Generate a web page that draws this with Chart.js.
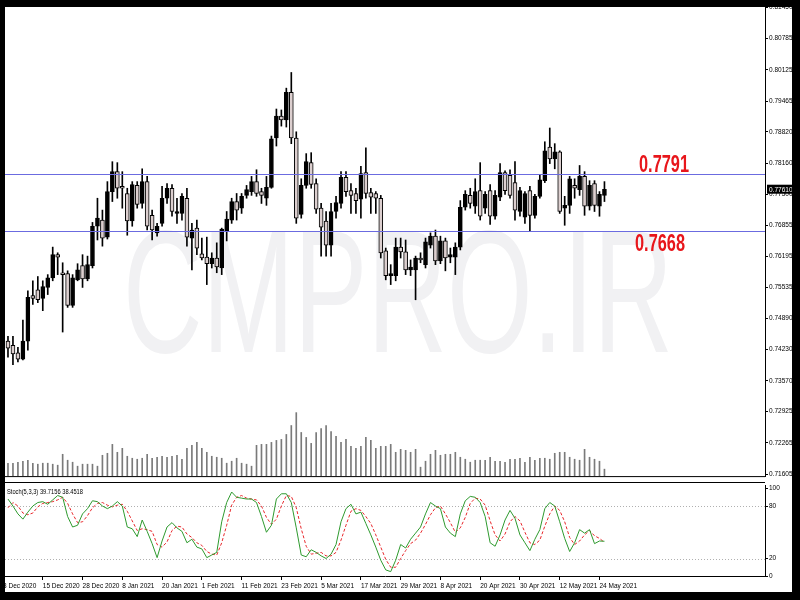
<!DOCTYPE html>
<html>
<head>
<meta charset="utf-8">
<script src="https://cdn.jsdelivr.net/npm/chart.js@4.4.1/dist/chart.umd.min.js"></script>
<style>
html,body{margin:0;padding:0;background:#fff;width:800px;height:600px;overflow:hidden;}
canvas{position:absolute;left:0;}
#main{top:0;}
#stoch{top:481px;}
.frame{position:absolute;background:#000;z-index:5;}
</style>
</head>
<body>
<canvas id="main" width="800" height="481"></canvas>
<canvas id="stoch" width="800" height="119"></canvas>
<div class="frame" style="left:0;top:0;width:800px;height:7px"></div>
<div class="frame" style="left:0;top:0;width:5px;height:600px"></div>
<div class="frame" style="left:792px;top:0;width:8px;height:600px"></div>
<div class="frame" style="left:0;top:592px;width:800px;height:8px"></div>
<script>
// daily bars, 4 Dec 2020 .. 25 May 2021 (index 0 = 4 Dec)
const dateTicks = ["3 Dec 2020","15 Dec 2020","28 Dec 2020","8 Jan 2021","20 Jan 2021","1 Feb 2021","11 Feb 2021","23 Feb 2021","5 Mar 2021","17 Mar 2021","29 Mar 2021","8 Apr 2021","20 Apr 2021","30 Apr 2021","12 May 2021","24 May 2021"];
const tickStart = -1, tickEvery = 8;

const open = [0.7441,0.7432,0.7416,0.7403,0.7441,0.7537,0.7549,0.7531,0.7554,0.7574,
  0.7623,0.7585,0.7583,0.7516,0.7570,0.7600,0.7572,0.7600,0.7683,0.7696,
  0.7660,0.7756,0.7798,0.7767,0.7752,0.7694,0.7769,0.7731,0.7777,0.7706,
  0.7669,0.7689,0.7742,0.7763,0.7710,0.7710,0.7742,0.7658,0.7679,0.7625,
  0.7618,0.7604,0.7616,0.7595,0.7673,0.7696,0.7735,0.7721,0.7748,0.7756,
  0.7777,0.7756,0.7742,0.7765,0.7869,0.7915,0.7907,0.7965,0.7869,0.7708,
  0.7769,0.7817,0.7773,0.7721,0.7694,0.7643,0.7714,0.7731,0.7786,0.7758,
  0.7752,0.7740,0.7796,0.7754,0.7752,0.7742,0.7631,0.7579,0.7579,0.7639,
  0.7629,0.7591,0.7591,0.7616,0.7602,0.7643,0.7662,0.7610,0.7652,0.7618,
  0.7618,0.7639,0.7723,0.7748,0.7725,0.7758,0.7721,0.7758,0.7704,0.7744,
  0.7796,0.7790,0.7775,0.7714,0.7702,0.7758,0.7706,0.7746,0.7779,0.7850,
  0.7825,0.7840,0.7721,0.7727,0.7769,0.7760,0.7788,0.7725,0.7773,0.7725,
  0.7748];
const high = [0.7451,0.7451,0.7428,0.7485,0.7547,0.7568,0.7577,0.7568,0.7581,0.7639,
  0.7627,0.7606,0.7589,0.7581,0.7604,0.7623,0.7620,0.7691,0.7742,0.7717,
  0.7777,0.7819,0.7817,0.7798,0.7763,0.7777,0.7777,0.7804,0.7788,0.7717,
  0.7689,0.7767,0.7773,0.7771,0.7742,0.7752,0.7763,0.7689,0.7696,0.7658,
  0.7660,0.7627,0.7648,0.7679,0.7714,0.7742,0.7752,0.7752,0.7769,0.7788,
  0.7802,0.7763,0.7788,0.7873,0.7930,0.7928,0.7974,0.8007,0.7882,0.7783,
  0.7836,0.7838,0.7783,0.7731,0.7714,0.7731,0.7746,0.7798,0.7798,0.7773,
  0.7763,0.7809,0.7848,0.7763,0.7756,0.7748,0.7637,0.7602,0.7658,0.7658,
  0.7654,0.7612,0.7620,0.7627,0.7658,0.7669,0.7675,0.7662,0.7658,0.7637,
  0.7648,0.7737,0.7758,0.7763,0.7783,0.7817,0.7756,0.7771,0.7758,0.7815,
  0.7800,0.7802,0.7819,0.7765,0.7756,0.7767,0.7750,0.7790,0.7861,0.7890,
  0.7857,0.7842,0.7746,0.7788,0.7783,0.7811,0.7798,0.7779,0.7779,0.7756,
  0.7777];
const low = [0.7407,0.7391,0.7397,0.7401,0.7422,0.7518,0.7522,0.7505,0.7539,0.7568,
  0.7581,0.7460,0.7512,0.7512,0.7568,0.7554,0.7568,0.7595,0.7654,0.7641,
  0.7656,0.7735,0.7742,0.7721,0.7664,0.7683,0.7721,0.7721,0.7675,0.7654,
  0.7662,0.7683,0.7731,0.7704,0.7689,0.7696,0.7641,0.7591,0.7623,0.7612,
  0.7560,0.7595,0.7585,0.7581,0.7652,0.7689,0.7696,0.7710,0.7742,0.7748,
  0.7746,0.7731,0.7727,0.7763,0.7852,0.7894,0.7892,0.7857,0.7689,0.7700,
  0.7763,0.7763,0.7710,0.7620,0.7620,0.7620,0.7700,0.7721,0.7746,0.7710,
  0.7710,0.7700,0.7742,0.7710,0.7710,0.7616,0.7570,0.7560,0.7568,0.7616,
  0.7581,0.7579,0.7528,0.7606,0.7595,0.7637,0.7602,0.7604,0.7589,0.7606,
  0.7581,0.7633,0.7717,0.7721,0.7710,0.7696,0.7710,0.7687,0.7698,0.7737,
  0.7750,0.7742,0.7696,0.7704,0.7689,0.7673,0.7700,0.7742,0.7775,0.7815,
  0.7804,0.7710,0.7685,0.7710,0.7742,0.7748,0.7706,0.7717,0.7714,0.7704,
  0.7735];
const close = [0.7426,0.7414,0.7403,0.7441,0.7533,0.7531,0.7528,0.7556,0.7574,0.7623,
  0.7618,0.7581,0.7516,0.7574,0.7591,0.7572,0.7602,0.7683,0.7700,0.7658,
  0.7756,0.7798,0.7763,0.7763,0.7694,0.7771,0.7729,0.7777,0.7683,0.7675,
  0.7683,0.7742,0.7763,0.7714,0.7714,0.7746,0.7660,0.7675,0.7637,0.7616,
  0.7604,0.7616,0.7597,0.7677,0.7698,0.7735,0.7717,0.7746,0.7760,0.7777,
  0.7752,0.7748,0.7765,0.7867,0.7915,0.7907,0.7965,0.7869,0.7700,0.7769,
  0.7819,0.7771,0.7719,0.7681,0.7643,0.7714,0.7733,0.7786,0.7756,0.7748,
  0.7737,0.7794,0.7752,0.7744,0.7742,0.7627,0.7579,0.7583,0.7639,0.7629,
  0.7591,0.7597,0.7616,0.7612,0.7650,0.7662,0.7610,0.7652,0.7616,0.7623,
  0.7639,0.7723,0.7750,0.7731,0.7756,0.7704,0.7750,0.7704,0.7748,0.7796,
  0.7758,0.7748,0.7717,0.7758,0.7752,0.7706,0.7746,0.7781,0.7842,0.7825,
  0.7840,0.7714,0.7727,0.7783,0.7763,0.7788,0.7725,0.7769,0.7727,0.7750,
  0.7761];
const volume = [13,13,14,15,16,13,12,13,13,12,
  11,22,16,14,10,12,12,12,10,21,
  23,32,24,28,20,18,17,18,22,18,
  19,20,19,20,21,17,28,31,34,28,
  24,20,19,18,13,15,18,13,12,10,
  31,32,32,34,36,37,42,51,64,44,
  39,33,44,48,51,45,40,34,37,30,
  28,30,39,36,28,30,30,32,24,27,
  26,24,27,9,15,22,26,21,22,22,
  24,19,17,14,16,16,16,19,15,15,
  14,17,17,18,14,19,16,18,18,17,
  23,24,24,19,17,16,27,19,17,15,
  7];
const stochK = [88,80,71,65,73,80,84,85,82,87,
  92,90,68,56,58,71,77,86,85,80,
  77,80,85,80,56,54,45,64,51,37,
  21,40,56,61,55,51,38,42,33,31,
  21,24,27,62,84,96,90,89,88,88,
  84,68,50,58,88,94,94,84,55,24,
  22,30,27,23,20,25,36,62,77,82,
  71,73,60,47,33,18,7,5,18,36,
  32,42,49,56,71,84,80,77,56,49,
  45,71,86,91,90,84,68,38,34,47,
  64,75,66,47,38,29,42,53,77,84,
  80,62,43,28,38,53,49,53,37,40,
  39.7156];
const stochD = [78,84,80,72,70,72,79,83,84,85,
  87,90,83,71,61,62,69,78,83,84,
  81,79,81,82,74,63,52,54,53,51,
  36,33,39,52,57,56,48,44,38,35,
  28,25,24,38,58,81,90,92,89,88,
  87,80,67,59,65,80,92,91,78,54,
  34,25,26,27,23,23,27,41,58,74,
  77,75,68,60,47,33,19,10,10,20,
  29,37,41,49,59,70,78,80,71,61,
  50,55,67,83,89,88,81,63,47,40,
  48,62,68,63,50,38,36,41,57,71,
  80,75,62,44,36,40,47,52,46,43,
  38.4518];

const priceTicks = [0.81450,0.80785,0.80125,0.79465,0.78820,0.78160,0.77500,0.76855,0.76195,0.75535,0.74890,0.74230,0.73570,0.72925,0.72265,0.71605];
const stochTicks = [100,80,20,0];
const stochLevels = [80,20];
const levelLines = [0.7794,0.7673];
const levelTexts = ["0.7791","0.7668"];

const X_MIN = -0.6, X_MAX = 152.3;
const FONT = "'Liberation Sans', Arial, sans-serif";

// watermark, horizontal levels and the current price tag
const mainPlugin = {
  id: "mainExtras",
  beforeDatasetsDraw(chart) {
    const ctx = chart.ctx;
    ctx.save();
    ctx.fillStyle = "#f1f1f3";
    ctx.font = "175px " + FONT;
    ctx.textAlign = "center";
    ctx.textBaseline = "alphabetic";
    ctx.fillText("CMPRO.IR", 398, 352, 550);
    ctx.restore();
  },
  afterDraw(chart) {
    const { ctx, chartArea: a, scales: { y } } = chart;
    ctx.save();
    levelLines.forEach((v, i) => {
      const py = Math.round(y.getPixelForValue(v)) + 0.5;
      ctx.strokeStyle = "#6b6be0"; ctx.lineWidth = 1;
      ctx.beginPath(); ctx.moveTo(a.left, py); ctx.lineTo(a.right, py); ctx.stroke();
      ctx.fillStyle = "#e8161b";
      ctx.font = "bold 24px " + FONT;
      ctx.textAlign = "center";
      ctx.textBaseline = "alphabetic";
      const tx = i === 0 ? 664 : 660;
      const ty = i === 0 ? py - 3 : py + 19;
      ctx.fillText(levelTexts[i], tx, ty, 50);
    });
    // bottom edge of the price window
    ctx.strokeStyle = "#000"; ctx.lineWidth = 1;
    ctx.beginPath(); ctx.moveTo(0, a.bottom + 0.5); ctx.lineTo(a.right, a.bottom + 0.5); ctx.stroke();
    // last price tag
    const last = close[close.length - 1];
    const py = y.getPixelForValue(last);
    ctx.fillStyle = "#000";
    ctx.fillRect(a.right + 2, py - 4.5, 25, 9);
    ctx.fillStyle = "#fff";
    ctx.font = "6.5px " + FONT;
    ctx.textAlign = "left"; ctx.textBaseline = "middle";
    ctx.fillText(last.toFixed(5), a.right + 4, py + 0.5);
    ctx.restore();
  }
};

new Chart(document.getElementById("main"), {
  type: "bar",
  data: {
    datasets: [
      { label: "body", order: 0, yAxisID: "y",
        data: open.map((o, i) => ({ x: i, y: [o, close[i]] })),
        backgroundColor: open.map((o, i) => close[i] >= o ? "#000" : "#dccfcf"),
        borderColor: "#000", borderWidth: 1, borderSkipped: false, barThickness: 4, minBarLength: 1 },
      { label: "wick", order: 1, yAxisID: "y",
        data: low.map((l, i) => ({ x: i, y: [l, high[i]] })),
        backgroundColor: "#000", borderWidth: 0, barThickness: 1 },
      { label: "volume", order: 2, yAxisID: "vol",
        data: volume.map((v, i) => ({ x: i, y: v })),
        backgroundColor: "#7a7a7a", borderWidth: 0, barThickness: 1 }
    ]
  },
  options: {
    responsive: false, animation: false, events: [],
    layout: { padding: { left: 5, top: 7, right: 8, bottom: 1 } },
    datasets: { bar: { grouped: false } },
    plugins: { legend: { display: false }, tooltip: { enabled: false } },
    scales: {
      x: { type: "linear", min: X_MIN, max: X_MAX, offset: false, display: false },
      y: {
        position: "right", min: 0.71564, max: 0.8145,
        afterFit: s => { s.width = 27; },
        afterBuildTicks: s => { s.ticks = priceTicks.map(v => ({ value: v })); },
        ticks: { autoSkip: false, callback: v => v.toFixed(5), color: "#000", font: { family: FONT, size: 6.5 }, padding: 1 },
        grid: { drawOnChartArea: false, drawTicks: true, tickLength: 3, color: "#000" },
        border: { display: true, color: "#000" }
      },
      vol: { axis: "y", type: "linear", display: false, min: 0, max: 473 }
    }
  },
  plugins: [mainPlugin]
});

const stochPlugin = {
  id: "stochExtras",
  beforeDatasetsDraw(chart) {
    const { ctx, chartArea: a, scales: { y } } = chart;
    ctx.save();
    ctx.strokeStyle = "#b0b0b0"; ctx.lineWidth = 1; ctx.setLineDash([1, 2]);
    stochLevels.forEach(v => {
      const py = Math.round(y.getPixelForValue(v)) + 0.5;
      ctx.beginPath(); ctx.moveTo(a.left, py); ctx.lineTo(a.right, py); ctx.stroke();
    });
    ctx.restore();
  },
  afterDraw(chart) {
    const { ctx, chartArea: a } = chart;
    ctx.save();
    ctx.fillStyle = "#000";
    ctx.fillRect(0, 1, a.right, 1);
    ctx.font = "7px " + FONT;
    ctx.textAlign = "left"; ctx.textBaseline = "alphabetic";
    const txt = "Stoch(5,3,3) " + stochK[stochK.length - 1].toFixed(4) + " " + stochD[stochD.length - 1].toFixed(4);
    ctx.fillText(txt, 7, 13, 76);
    ctx.restore();
  }
};

new Chart(document.getElementById("stoch"), {
  type: "line",
  data: {
    datasets: [
      { label: "K", data: stochK.map((v, i) => ({ x: i, y: v })), borderColor: "#2e9a2e", borderWidth: 1, pointRadius: 0, tension: 0 },
      { label: "D", data: stochD.map((v, i) => ({ x: i, y: v })), borderColor: "#e8262a", borderWidth: 1, borderDash: [3, 2], pointRadius: 0, tension: 0 }
    ]
  },
  options: {
    responsive: false, animation: false, events: [],
    layout: { padding: { left: 5, top: 2, right: 8, bottom: 8 } },
    plugins: { legend: { display: false }, tooltip: { enabled: false } },
    scales: {
      x: {
        type: "linear", min: X_MIN, max: X_MAX, offset: false,
        afterFit: s => { s.height = 16; },
        afterBuildTicks: s => { s.ticks = dateTicks.map((_, j) => ({ value: tickStart + tickEvery * j })); },
        ticks: { autoSkip: false, maxRotation: 0, minRotation: 0, align: "start", callback: (v, j) => dateTicks[j], color: "#000", font: { family: FONT, size: 6.5 }, padding: 2 },
        grid: { drawOnChartArea: false, drawTicks: true, tickLength: 4, color: "#000" },
        border: { display: true, color: "#000" }
      },
      y: {
        position: "right", min: 0, max: 103,
        afterFit: s => { s.width = 27; },
        afterBuildTicks: s => { s.ticks = stochTicks.map(v => ({ value: v })); },
        ticks: { autoSkip: false, color: "#000", font: { family: FONT, size: 6.5 }, padding: 1 },
        grid: { drawOnChartArea: false, drawTicks: true, tickLength: 3, color: "#000" },
        border: { display: true, color: "#000" }
      }
    }
  },
  plugins: [stochPlugin]
});
</script>
</body>
</html>
